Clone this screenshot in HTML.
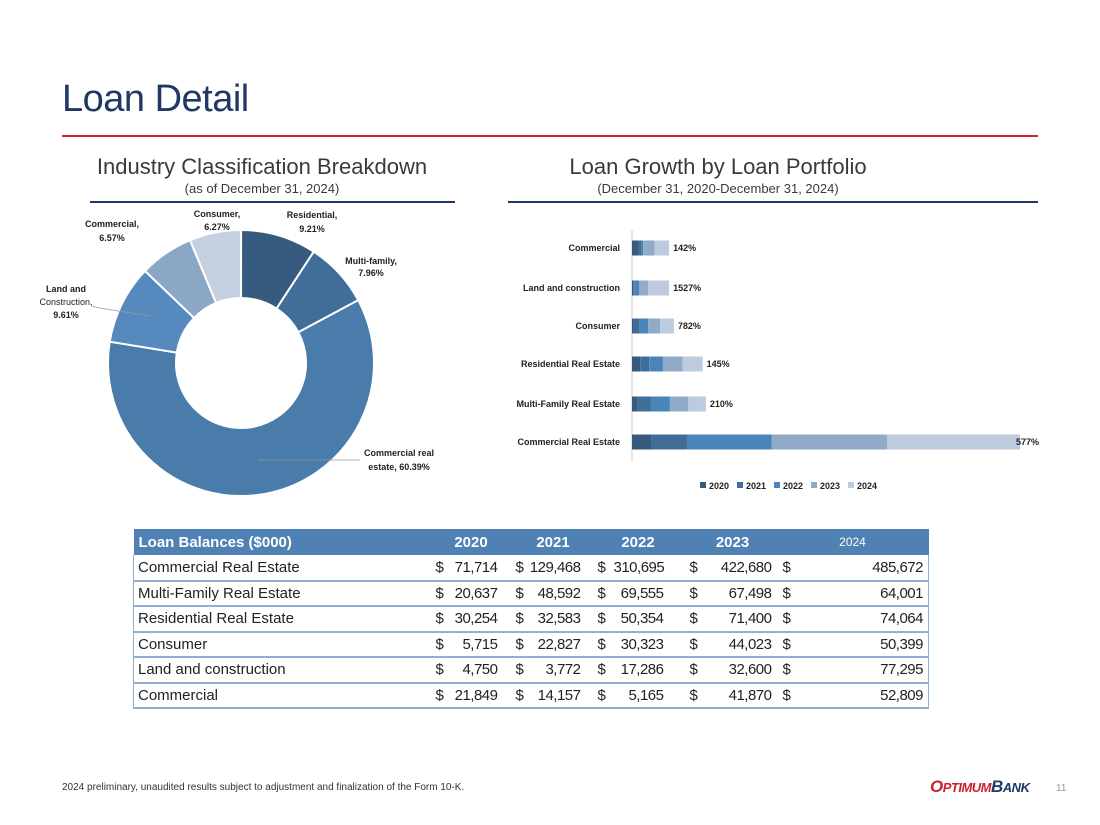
<!DOCTYPE html>
<html><head><meta charset="utf-8">
<style>
body{margin:0;width:1100px;height:825px;background:#fff;font-family:"Liberation Sans",sans-serif;position:relative;overflow:hidden}
.abs{position:absolute}
table{border-collapse:collapse;table-layout:fixed}
td{padding:0;white-space:nowrap;overflow:visible}
</style></head><body>
<div class="abs" style="left:62px;top:78px;font-size:38px;color:#1f3864;letter-spacing:-0.5px">Loan Detail</div>
<div class="abs" style="left:62px;top:135px;width:976px;height:2px;background:#c0282e"></div>

<div class="abs" style="left:62px;top:154px;width:400px;text-align:center;font-size:22px;color:#3a3a3a">Industry Classification Breakdown</div>
<div class="abs" style="left:62px;top:181px;width:400px;text-align:center;font-size:13px;color:#3a3a3a">(as of December 31, 2024)</div>
<div class="abs" style="left:90px;top:201px;width:365px;height:2px;background:#1f3864"></div>

<div class="abs" style="left:508px;top:154px;width:420px;text-align:center;font-size:22px;color:#3a3a3a">Loan Growth by Loan Portfolio</div>
<div class="abs" style="left:508px;top:181px;width:420px;text-align:center;font-size:13px;color:#3a3a3a">(December 31, 2020-December 31, 2024)</div>
<div class="abs" style="left:508px;top:201px;width:530px;height:2px;background:#1f3864"></div>

<svg class="abs" style="left:0;top:0" width="1100" height="825" id="svg"></svg>

<table class="abs" style="left:133px;top:529px;width:795px;font-size:15px;color:#222">
<colgroup><col style="width:302px"><col style="width:12px"><col style="width:55px"><col style="width:26px"><col style="width:57px"><col style="width:28px"><col style="width:55px"><col style="width:30px"><col style="width:78px"><col style="width:22px"><col style="width:130px"></colgroup>
<tbody id="tb"></tbody></table>

<div class="abs" style="left:62px;top:782px;font-size:10px;color:#333">2024 preliminary, unaudited results subject to adjustment and finalization of the Form 10-K.</div>
<div class="abs" style="left:930px;top:777px;font-size:17px;font-weight:bold;font-style:italic;letter-spacing:-0.5px"><span style="color:#c8202e">O<span style="font-size:13px">PTIMUM</span></span><span style="color:#1f3864">B<span style="font-size:13px">ANK</span></span></div>
<div class="abs" style="left:1056px;top:783px;font-size:10px;color:#999">11</div>

<script>
const sliceNames=["Residential","Multi-family","Commercial real estate","Land and Construction","Commercial","Consumer"];
const slicePcts=[9.21,7.96,60.39,9.61,6.57,6.27];
const sliceColors=["#375b7e","#416e98","#4a7cab","#5689bd","#8ba7c6","#c4d0df"];
const cats=["Commercial Real Estate","Multi-Family Real Estate","Residential Real Estate","Consumer","Land and construction","Commercial"];
const years=["2020","2021","2022","2023","2024"];
const v2020=[71714,20637,30254,5715,4750,21849];
const v2021=[129468,48592,32583,22827,3772,14157];
const v2022=[310695,69555,50354,30323,17286,5165];
const v2023=[422680,67498,71400,44023,32600,41870];
const v2024=[485672,64001,74064,50399,77295,52809];
const growth=["577%","210%","145%","782%","1527%","142%"];
const barColors=["#375b7e","#416e98","#4a85ba","#90aac8","#bccbdd"];

const NS="http://www.w3.org/2000/svg";
const svg=document.getElementById('svg');
function mk(tag,attrs,parent){const e=document.createElementNS(NS,tag);for(const k in attrs)e.setAttribute(k,attrs[k]);(parent||svg).appendChild(e);return e;}

// donut
const cx=241,cy=363,R=133,r=65;
let a0=0;
slicePcts.forEach((p,i)=>{
  const a1=a0+p/100*Math.PI*2;
  const pt=(rad,a)=>[cx+rad*Math.sin(a),cy-rad*Math.cos(a)];
  const [x1,y1]=pt(R,a0),[x2,y2]=pt(R,a1),[x3,y3]=pt(r,a1),[x4,y4]=pt(r,a0);
  const lg=(a1-a0)>Math.PI?1:0;
  const el=mk('path',{d:`M${x1},${y1}A${R},${R} 0 ${lg} 1 ${x2},${y2}L${x3},${y3}A${r},${r} 0 ${lg} 0 ${x4},${y4}Z`,fill:sliceColors[i],stroke:'#fff','stroke-width':2});
  
  
  a0=a1;
});
const dl=[[312,218,312,232,"Residential,","9.21%"],[371,264,371,276,"Multi-family,","7.96%"],[399,456,399,470,"Commercial real","estate, 60.39%"],[66,292,66,318,"Land and","9.61%"],[112,227,112,241,"Commercial,","6.57%"],[217,217,217,230,"Consumer,","6.27%"]];
dl.forEach((d,i)=>{
  const t=mk('text',{x:d[0],y:d[1],'text-anchor':'middle','font-size':9,'font-weight':'bold',fill:'#222','font-family':'Liberation Sans'});t.textContent=d[4];
  
  
  const t2=mk('text',{x:d[2],y:d[3],'text-anchor':'middle','font-size':9,'font-weight':'bold',fill:'#222','font-family':'Liberation Sans'});t2.textContent=d[5];
  
  
});
const tc=mk('text',{x:66,y:305,'text-anchor':'middle','font-size':9,fill:'#222','font-family':'Liberation Sans'});tc.textContent="Construction,";


mk('line',{x1:258,y1:460,x2:360,y2:460,stroke:'#999','stroke-width':0.8});
mk('path',{d:'M92,306 L100,308 L150,316',stroke:'#999',fill:'none','stroke-width':0.8});

// bars
const x0=632,scale=388/1420229;
const rowY=[442,404,364,326,288,248],bh=15;
mk('line',{x1:x0,y1:230,x2:x0,y2:462,stroke:'#ccc','stroke-width':1});
const series=[v2020,v2021,v2022,v2023,v2024];
cats.forEach((c,i)=>{
  let x=x0;
  series.forEach((s,j)=>{
    const w=s[i]*scale;
    const b=mk('rect',{x:x,y:rowY[i]-bh/2,width:w,height:bh,fill:barColors[j]});
    
    
    x+=w;
  });
  const lab=mk('text',{x:620,y:rowY[i]+3,'text-anchor':'end','font-size':9,'font-weight':'bold',fill:'#222','font-family':'Liberation Sans'});lab.textContent=c;
  
  
  const g=mk('text',{x:x+(i==0?-4:4),y:rowY[i]+3,'font-size':9,'font-weight':'bold',fill:'#222','font-family':'Liberation Sans'});g.textContent=growth[i];
  
  
});
years.forEach((y,j)=>{
  const lx=700+j*37;
  const s=mk('rect',{x:lx,y:482,width:6,height:6,fill:barColors[j]});
  
  
  const t=mk('text',{x:lx+9,y:489,'font-size':9,'font-weight':'bold',fill:'#222','font-family':'Liberation Sans'});t.textContent=y;
  
  
});

// table
const tb=document.getElementById('tb');
const fmt=n=>n.toLocaleString('en-US');
const dPad=[0,13,12,21,6];
let h='<tr style="background:#4f81b5;color:#fff;height:26px;font-weight:bold"><td style="padding-left:5px">Loan Balances ($000)</td><td></td><td style="text-align:center;padding-right:8px">2020</td><td></td><td style="text-align:center;padding-right:8px">2021</td><td></td><td style="text-align:center;padding-right:6px">2022</td><td></td><td style="text-align:center;padding-right:10px">2023</td><td></td><td style="text-align:center;font-weight:normal;font-size:12px;padding-right:22px">2024</td></tr>';
cats.forEach((c,i)=>{
  h+='<tr style="height:25.5px;border-bottom:2px solid #8fb0d4"><td style="padding-left:4px;border-left:1px solid #8fb0d4">'+c+'</td>';
  series.forEach((s,j)=>{h+='<td style="text-align:left;padding-left:'+dPad[j]+'px">$</td><td style="text-align:right;letter-spacing:-0.5px;padding-right:5px;'+(j==4?'border-right:1px solid #8fb0d4':'')+'">'+fmt(s[i])+'</td>';});
  h+='</tr>';
});
tb.innerHTML=h;
</script>
</body></html>
